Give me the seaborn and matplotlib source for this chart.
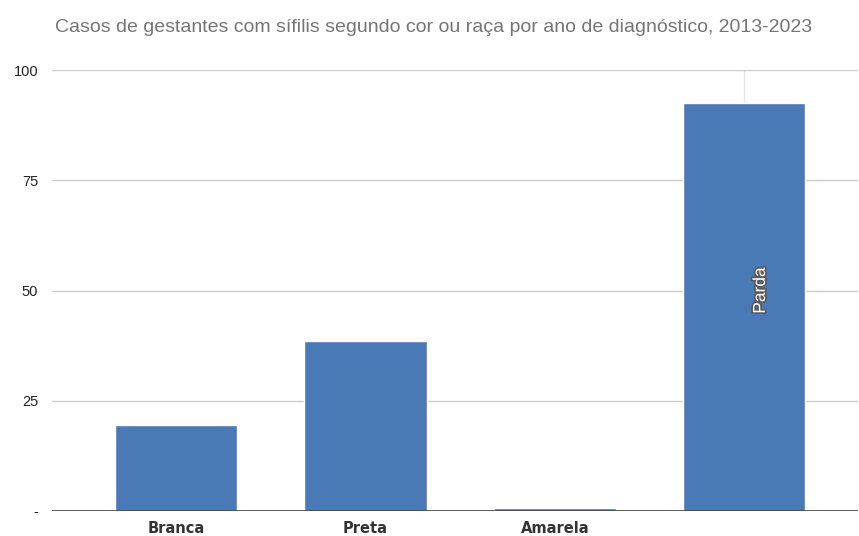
import matplotlib
matplotlib.use('Agg')
import matplotlib.pyplot as plt
import matplotlib.patheffects as pe
import seaborn as sns
import pandas as pd

sns.set_theme(style = 'white')
plt.rcParams['font.family'] = ['Liberation Sans', 'DejaVu Sans']

categorias = ['Branca', 'Preta', 'Amarela', 'Parda']
casos = [19.5, 38.5, 0.7, 92.5]
rotulos_x = ['Branca', 'Preta', 'Amarela', '']
yticks = [0, 25, 50, 75, 100]
ytick_labels = ['-', '25', '50', '75', '100']
titulo = 'Casos de gestantes com sífilis segundo cor ou raça por ano de diagnóstico, 2013-2023'

df = pd.DataFrame({'cor': categorias, 'casos': casos})

fig = plt.figure(figsize = (8.59, 5.36), dpi = 100)
ax = fig.add_axes([52 / 859, 1 - 511 / 536, 806 / 859, 441 / 536])

ax.axvline(3, color = '#e6e6e6', linewidth = 1, zorder = 0)
for y in yticks[1:]:
    ax.axhline(y, color = '#cccccc', linewidth = 1, zorder = 0)

sns.barplot(data = df, x = 'cor', y = 'casos', color = '#4a7ab5', saturation = 1,
            width = 0.645, ax = ax, zorder = 2)

ax.axhline(0, color = '#444444', linewidth = 1.2, zorder = 3)

ax.text(3.085, 50, 'Parda', rotation = 90, ha = 'center', va = 'center', fontsize = 12.5,
        color = 'white', zorder = 4,
        path_effects = [pe.withStroke(linewidth = 2.5, foreground = '#5a5a5a')])

ax.set_xlim(-0.655, 3.6)
ax.set_ylim(0, 100)
ax.set_yticks(yticks)
ax.set_yticklabels(ytick_labels, fontsize = 10.5, color = '#222222')
ax.set_xticks(range(len(categorias)))
ax.set_xticklabels(rotulos_x, fontsize = 10.5, color = '#333333', family = 'DejaVu Sans', weight = 'semibold')
ax.tick_params(axis = 'both', length = 0, pad = 10)
ax.tick_params(axis = 'x', pad = 7)
ax.set_xlabel('')
ax.set_ylabel('')
sns.despine(ax = ax, left = True, bottom = True, right = True, top = True)

fig.text(434 / 859, 1 - 27 / 536, titulo, ha = 'center', va = 'center', fontsize = 14, color = '#757575')

fig.savefig('out.png', dpi = 100)
